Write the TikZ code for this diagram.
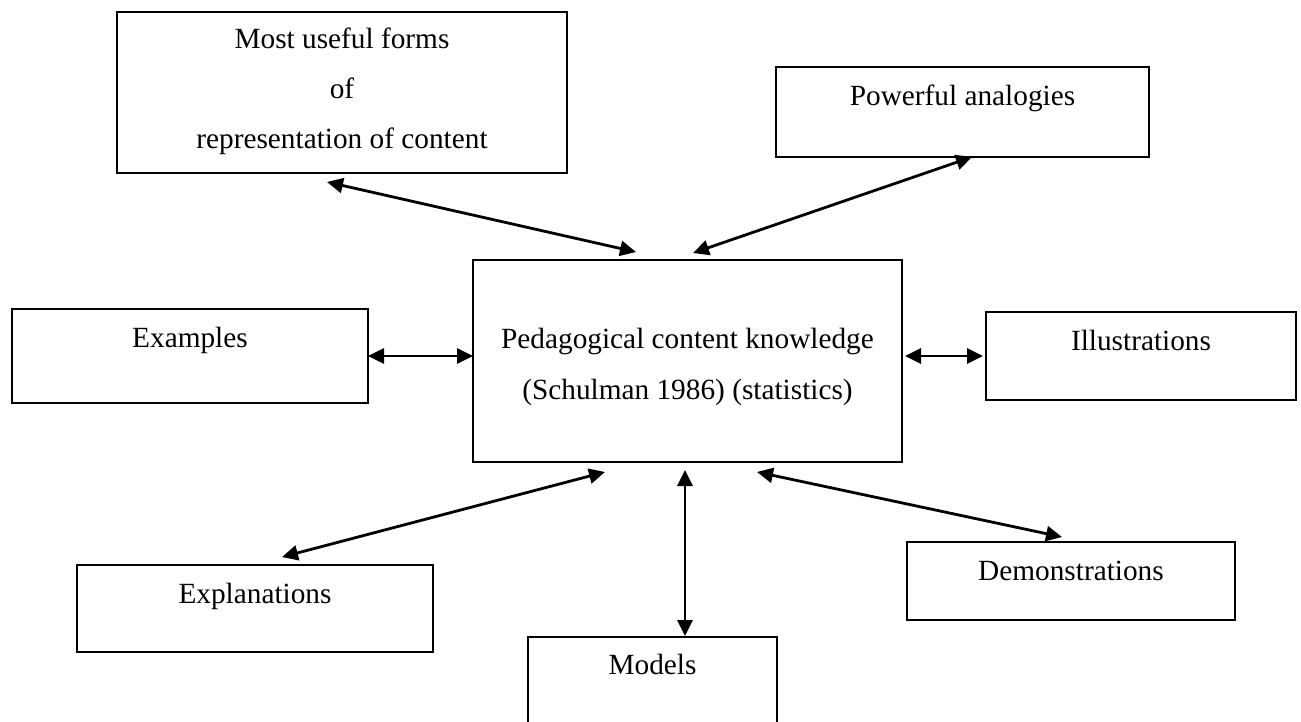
\documentclass[tikz,border=0pt]{standalone}
\usepackage{fontspec}
\setmainfont{Liberation Serif}
\usetikzlibrary{arrows.meta,calc}
\begin{document}
\begin{tikzpicture}[x=1pt,y=-1pt,
  box/.style={draw=black, line width=2pt, rectangle, inner sep=0pt, outer sep=0pt},
  lbl/.style={anchor=base, inner sep=0pt, font=\fontsize{29.3}{50}\selectfont},
  link/.style={line width=2.8pt,
    {Triangle[length=16pt,width=15pt]}-{Triangle[length=16pt,width=15pt]}}
]
\useasboundingbox[fill=white] (0,0) rectangle (1301,722);

% outer boxes
\node[box, minimum width=450pt, minimum height=161pt] (mu) at (342,92.5) {};
\node[box, minimum width=373pt, minimum height=90pt]  (pa) at (962.5,112) {};
\node[box, minimum width=429pt, minimum height=202pt] (pck) at (687.5,361) {};
\node[box, minimum width=356pt, minimum height=94pt]  (ex) at (190,356) {};
\node[box, minimum width=310pt, minimum height=88pt]  (il) at (1141,356) {};
\node[box, minimum width=356pt, minimum height=87pt]  (ep) at (255,608.5) {};
\node[box, minimum width=328pt, minimum height=78pt]  (de) at (1071,581) {};
\node[box, minimum width=249pt, minimum height=91pt]  (mo) at (652.5,682.5) {};

% labels
\node[lbl] (mu-t1) at (342,49)  {Most useful forms};
\node[lbl] (mu-t2) at (342,99)  {of};
\node[lbl] (mu-t3) at (342,149) {representation of content};
\node[lbl] (pa-t)  at (962.5,106) {Powerful analogies};
\node[lbl] (pck-t1) at (687.5,348) {Pedagogical content knowledge};
\node[lbl] (pck-t2) at (687.5,399) {(Schulman 1986) (statistics)};
\node[lbl] (ex-t) at (190,347) {Examples};
\node[lbl] (il-t) at (1141,350) {Illustrations};
\node[lbl] (ep-t) at (255,603) {Explanations};
\node[lbl] (de-t) at (1071,580) {Demonstrations};
\node[lbl] (mo-t) at (652.5,674) {Models};

% connector end points
\coordinate (mu-in)  at (327,182);
\coordinate (pck-a1) at (636,252);
\coordinate (pa-in)  at (972,157);
\coordinate (pck-a2) at (693,253);
\coordinate (pck-a5) at (605,472);
\coordinate (ep-in)  at (282,557);
\coordinate (pck-a6) at (685,470);
\coordinate (mo-in)  at (685,636);
\coordinate (pck-a7) at (757,472);
\coordinate (de-in)  at (1062,537);

% connectors
\draw[link] (mu-in) -- (pck-a1);
\draw[link] (pa-in) -- (pck-a2);
\draw[link] (ex.east) -- (ex.east -| pck.west);
\draw[link, shorten <=3pt, shorten >=3pt] (pck.east |- il.west) -- (il.west);
\draw[link] (ep-in) -- (pck-a5);
\draw[link] (pck-a6) -- (mo-in);
\draw[link] (pck-a7) -- (de-in);
\end{tikzpicture}
\end{document}
